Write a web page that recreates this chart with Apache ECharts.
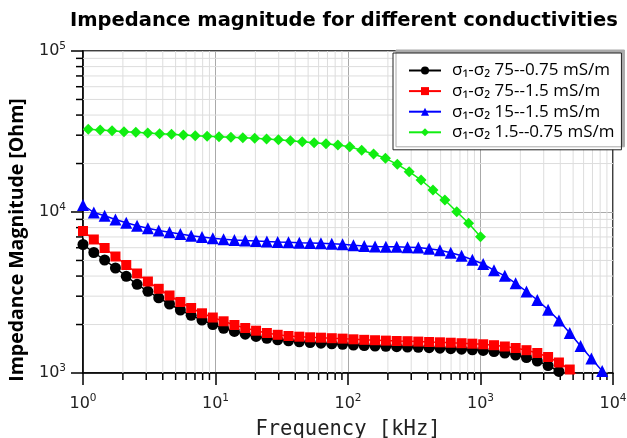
<!DOCTYPE html>
<html><head><meta charset="utf-8">
<script src="https://cdn.jsdelivr.net/npm/echarts@6/dist/echarts.min.js"></script>
<style>html,body{margin:0;padding:0;background:#fff}#c{width:627px;height:438px}</style>
</head><body><div id="c"></div>
<script>
// Frequencies (kHz) for the black, red and blue series
const freqA = [1, 1.207, 1.456, 1.758, 2.121, 2.560, 3.089, 3.728, 4.498, 5.429,
  6.551, 7.906, 9.541, 11.51, 13.89, 16.77, 20.24, 24.42, 29.47, 35.56,
  42.92, 51.79, 62.51, 75.43, 91.03, 109.9, 132.6, 160.0, 193.1, 233.0,
  281.2, 339.3, 409.5, 494.2, 596.4, 719.7, 868.5, 1048, 1265, 1526,
  1842, 2223, 2683, 3237, 3907, 4715, 5690, 6866, 8286, 10000];
// Frequencies (kHz) for the green series
const freqB = [1.096, 1.348, 1.657, 2.038, 2.505, 3.080, 3.786, 4.655, 5.723, 7.036,
  8.650, 10.63, 13.07, 16.07, 19.76, 24.29, 29.87, 36.72, 45.14, 55.50,
  68.23, 83.88, 103.1, 126.8, 155.9, 191.6, 235.6, 289.7, 356.1, 437.8,
  538.3, 661.8, 813.6, 1000];

const seriesNames = ['σ₁-σ₂ 75--0.75 mS/m', 'σ₁-σ₂ 75--1.5 mS/m', 'σ₁-σ₂ 15--1.5 mS/m', 'σ₁-σ₂ 1.5--0.75 mS/m'];

const black = [6283, 5603, 5033, 4489, 3988, 3555, 3218, 2932, 2683, 2462,
  2283, 2134, 2001, 1895, 1811, 1742, 1686, 1643, 1607, 1585,
  1562, 1547, 1531, 1518, 1508, 1492, 1482, 1471, 1465, 1457,
  1450, 1444, 1436, 1426, 1416, 1405, 1394, 1380, 1360, 1331,
  1293, 1248, 1187, 1113, 1022, 918, 780, 640, 510, 400];
const red = [7621, 6750, 5975, 5291, 4686, 4150, 3701, 3334, 3030, 2761,
  2533, 2349, 2211, 2095, 1987, 1903, 1831, 1772, 1727, 1697,
  1681, 1666, 1657, 1645, 1635, 1619, 1607, 1598, 1589, 1580,
  1576, 1567, 1558, 1551, 1542, 1531, 1521, 1508, 1488, 1461,
  1430, 1386, 1331, 1257, 1162, 1051, 931, 784, 640, 520];
const blue = [11050, 9929, 9485, 8982, 8580, 8222, 7933, 7676, 7481, 7301,
  7126, 6995, 6876, 6779, 6701, 6644, 6606, 6550, 6512, 6485,
  6448, 6420, 6393, 6356, 6310, 6220, 6149, 6114, 6088, 6079,
  6045, 6010, 5917, 5783, 5587, 5345, 5055, 4753, 4344, 4015,
  3606, 3208, 2841, 2469, 2119, 1772, 1471, 1230, 1029, 867];
const green = [32640, 32320, 31990, 31530, 31260, 30950, 30640, 30380, 30080, 29780,
  29530, 29360, 29110, 28940, 28700, 28410, 28090, 27730, 27340, 26950,
  26530, 26080, 25440, 24170, 22920, 21550, 19780, 17800, 15800, 13700,
  11870, 10040, 8507, 7024];

// Axis ranges and minor tick values
const xMin = 1, xMax = 10000, yMin = 1000, yMax = 100000;
const minorX = [2,3,4,5,6,7,8,9, 20,30,40,50,60,70,80,90, 200,300,400,500,600,700,800,900, 2000,3000,4000,5000,6000,7000,8000,9000];
const minorY = [2000,3000,4000,5000,6000,7000,8000,9000, 20000,30000,40000,50000,60000,70000,80000,90000];

const pairs = (xs, ys) => xs.map((x, i) => [x, ys[i]]);

const chart = echarts.init(document.getElementById('c'), null, {renderer: 'canvas'});

const supFmt = v => '{b|10}{e|' + Math.round(Math.log10(v)) + '}';
const labelRich = {
  b: {fontFamily: 'DejaVu Sans', fontSize: 16, color: '#222'},
  e: {fontFamily: 'DejaVu Sans', fontSize: 10.5, color: '#222', padding: [0, 0, 10, 0]}
};

const minorXSeries = {
  type: 'custom', name: 'minorX', silent: true, z: 1, clip: false,
  data: minorX.map(v => [v, yMin]), encode: {x: 0, y: 1},
  renderItem: (params, api) => {
    const v = api.value(0);
    const b = api.coord([v, yMin]);
    const t = api.coord([v, yMax]);
    return {type: 'group', children: [
      {type: 'line', shape: {x1: b[0], y1: b[1], x2: t[0], y2: t[1]}, style: {stroke: '#dddddd', lineWidth: 1}},
      {type: 'line', shape: {x1: b[0], y1: b[1], x2: b[0], y2: b[1] + 7}, style: {stroke: '#000', lineWidth: 1.5}}
    ]};
  }
};
const minorYSeries = {
  type: 'custom', name: 'minorY', silent: true, z: 1, clip: false,
  data: minorY.map(v => [xMin, v]), encode: {x: 0, y: 1},
  renderItem: (params, api) => {
    const v = api.value(1);
    const l = api.coord([xMin, v]);
    const r = api.coord([xMax, v]);
    return {type: 'group', children: [
      {type: 'line', shape: {x1: l[0], y1: l[1], x2: r[0], y2: r[1]}, style: {stroke: '#dddddd', lineWidth: 1}},
      {type: 'line', shape: {x1: l[0], y1: l[1], x2: l[0] - 7, y2: l[1]}, style: {stroke: '#000', lineWidth: 1.5}}
    ]};
  }
};

const lineSeries = (name, xs, ys, color, symbol, size) => ({
  type: 'line', name, data: pairs(xs, ys), symbol, symbolSize: size,
  clip: true, z: 3,
  lineStyle: {color, width: 1.5}, itemStyle: {color},
  emphasis: {disabled: true}
});

chart.setOption({
  animation: false,
  backgroundColor: '#fff',
  title: {
    text: 'Impedance magnitude for different conductivities',
    left: 65, top: 6,
    textStyle: {fontFamily: 'DejaVu Sans', fontWeight: 'bold', fontSize: 19.5, color: '#000'}
  },
  grid: {left: 83, right: 14, top: 51, bottom: 65, show: true, borderColor: '#000', borderWidth: 1.5,
    backgroundColor: '#fff', containLabel: false, outerBoundsMode: 'none'},
  legend: {
    data: seriesNames, orient: 'vertical', left: 393, top: 53,
    backgroundColor: '#fff', borderColor: '#222', borderWidth: 1,
    padding: [9, 7, 9, 15], itemWidth: 32, itemHeight: 10, itemGap: 3.6,
    shadowColor: '#aaa', shadowOffsetX: 3, shadowOffsetY: -3, shadowBlur: 0,
    textStyle: {fontFamily: 'Open Sans', fontSize: 17, color: '#000', padding: [0, 0, 0, 6]}
  },
  xAxis: {
    type: 'log', logBase: 10, min: xMin, max: xMax,
    axisLine: {lineStyle: {color: '#000', width: 1.5}},
    axisTick: {length: 12, lineStyle: {color: '#000', width: 1.5}},
    axisLabel: {formatter: supFmt, rich: labelRich, margin: 20},
    splitLine: {show: true, lineStyle: {color: '#aaaaaa', width: 1}},
    name: 'Frequency [kHz]', nameLocation: 'middle', nameGap: 46,
    nameTextStyle: {fontFamily: 'DejaVu Sans Mono', fontSize: 20.5, color: '#222'}
  },
  yAxis: {
    type: 'log', logBase: 10, min: yMin, max: yMax,
    axisLine: {lineStyle: {color: '#000', width: 1.5}},
    axisTick: {length: 12, lineStyle: {color: '#000', width: 1.5}},
    axisLabel: {formatter: supFmt, rich: labelRich, margin: 17},
    splitLine: {show: true, lineStyle: {color: '#aaaaaa', width: 1}},
    name: 'Impedance Magnitude [Ohm]', nameLocation: 'middle', nameGap: 56,
    nameTextStyle: {fontFamily: 'Open Sans', fontWeight: 'bold', fontSize: 19.5, color: '#000', padding: [0, 56, 0, 0]}
  },
  series: [
    minorXSeries, minorYSeries,
    lineSeries(seriesNames[0], freqA, black, '#000000', 'circle', 11),
    lineSeries(seriesNames[1], freqA, red, '#ff0000', 'rect', 10),
    lineSeries(seriesNames[2], freqA, blue, '#0000ff', 'triangle', 12),
    lineSeries(seriesNames[3], freqB, green, '#11ee11', 'diamond', 11)
  ]
});
</script></body></html>
